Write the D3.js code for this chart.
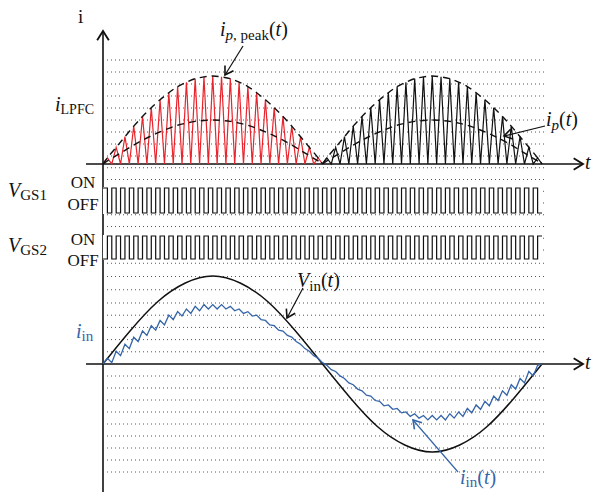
<!DOCTYPE html>
<html>
<head>
<meta charset="utf-8">
<script src="https://cdn.jsdelivr.net/npm/d3@7"></script>
<style>
  body { margin: 0; background: #fff; }
</style>
</head>
<body>
<div id="chart"></div>
<script>
// switching periods in one half of the line cycle
let periodsPerHalf = 25;

// peak of each inductor current spike, as fraction of i_LPFC peak
let spikePeaksFirst = [0.07, 0.19, 0.31, 0.43, 0.54, 0.64, 0.73, 0.81, 0.88, 0.93, 0.97, 0.99, 1.0,
                       0.99, 0.97, 0.93, 0.88, 0.81, 0.73, 0.64, 0.54, 0.43, 0.31, 0.19, 0.07];
let spikePeaksSecond = [0.07, 0.19, 0.31, 0.43, 0.54, 0.64, 0.73, 0.81, 0.88, 0.93, 0.97, 0.99, 1.0,
                        0.99, 0.97, 0.93, 0.88, 0.81, 0.73, 0.64, 0.54, 0.43, 0.31, 0.19, 0.07];
// average current is half the peak
let avgRatio = 0.5;

// input voltage over one full line cycle (16 equal steps)
let vinSamples = [0, 0.38, 0.71, 0.92, 1.0, 0.92, 0.71, 0.38, 0,
                  -0.38, -0.71, -0.92, -1.0, -0.92, -0.71, -0.38, 0];

// input current, mean value in each switching period
let iinMean = [0.04, 0.12, 0.20, 0.28, 0.35, 0.41, 0.47, 0.53, 0.57, 0.60, 0.63, 0.65, 0.65,
               0.65, 0.63, 0.60, 0.57, 0.53, 0.47, 0.41, 0.35, 0.28, 0.20, 0.12, 0.04,
               -0.04, -0.11, -0.19, -0.26, -0.33, -0.39, -0.45, -0.49, -0.53, -0.57, -0.59, -0.61, -0.61,
               -0.61, -0.59, -0.57, -0.53, -0.49, -0.45, -0.39, -0.33, -0.26, -0.19, -0.11, -0.04];
let iinRipple = 0.025;

// gate signals: duty and phase (in periods)
let gateDuty = 0.5;
let gatePhase = { vgs1: 0, vgs2: 0.5 };

let gateLevels = ["OFF", "ON"];

let width = 593;
let height = 492;
let serif = "'Liberation Serif', 'DejaVu Serif', serif";
let red = "#e8242c";
let blue = "#3565a8";
let ink = "#111";

let svg = d3.select("#chart").append("svg")
    .attr("width", width)
    .attr("height", height)
    .style("background", "#fff");

let defs = svg.append("defs");
function addMarker(id, color, size) {
  defs.append("marker")
      .attr("id", id)
      .attr("viewBox", "-10 -6 12 12")
      .attr("refX", 0).attr("refY", 0)
      .attr("markerUnits", "userSpaceOnUse")
      .attr("markerWidth", size).attr("markerHeight", size)
      .attr("orient", "auto")
      .append("path")
      .attr("d", "M-8,-5 L0,0 L-8,5")
      .attr("fill", "none")
      .attr("stroke", color)
      .attr("stroke-width", 1.6);
}
addMarker("axisArrow", ink, 14);
addMarker("noteArrow", ink, 12);
addMarker("noteArrowBlue", blue, 12);

let nPeriods = periodsPerHalf * 2;

// time scale (switching periods)
let x = d3.scaleLinear().domain([0, nPeriods]).range([103, 542]);
// grid rows
let gridY = d3.scaleLinear().domain([0, 8, 16, 20, 25, 34]).range([60, 156, 250, 303, 364, 472]);
// panel scales
let yI = d3.scaleLinear().domain([0, 1]).range([164, 76]);
let yG1 = d3.scaleLinear().domain([0, 1]).range([213, 188]);
let yG2 = d3.scaleLinear().domain([0, 1]).range([259, 236]);
let yV = d3.scaleLinear().domain([-1, 1]).range([452, 276]);

// dotted grid
let rows = d3.range(0, 35).filter(function(d) { return d !== 25; });
svg.append("g").selectAll("line")
    .data(rows)
    .enter()
    .append("line")
    .attr("x1", 107).attr("x2", 546)
    .attr("y1", function(d) { return gridY(d); })
    .attr("y2", function(d) { return gridY(d); })
    .attr("stroke", "#555")
    .attr("stroke-width", 1)
    .attr("stroke-dasharray", "1,3");

// axes
svg.append("line")
    .attr("x1", x(0)).attr("y1", 492).attr("x2", x(0)).attr("y2", 31)
    .attr("stroke", ink).attr("stroke-width", 1.6)
    .attr("marker-end", "url(#axisArrow)");
[yI(0), yV(0)].forEach(function(yy) {
  svg.append("line")
      .attr("x1", 86).attr("y1", yy).attr("x2", 583).attr("y2", yy)
      .attr("stroke", ink).attr("stroke-width", 1.6)
      .attr("marker-end", "url(#axisArrow)");
});

// inductor current spikes
function spikePoints(peaks, offset) {
  let pts = [[offset, 0]];
  peaks.forEach(function(p, k) {
    pts.push([offset + k + 0.5, p]);
    pts.push([offset + k + 1, 0]);
  });
  return pts;
}
let lineI = d3.line()
    .x(function(d) { return x(d[0]); })
    .y(function(d) { return yI(d[1]); });

svg.append("path")
    .attr("d", lineI(spikePoints(spikePeaksFirst, 0)))
    .attr("fill", "none").attr("stroke", red).attr("stroke-width", 1.2);
svg.append("path")
    .attr("d", lineI(spikePoints(spikePeaksSecond, periodsPerHalf)))
    .attr("fill", "none").attr("stroke", ink).attr("stroke-width", 1.2);

// envelopes
let lineEnv = d3.line()
    .x(function(d) { return x(d[0]); })
    .y(function(d) { return yI(d[1]); })
    .curve(d3.curveNatural);
function envPoints(peaks, offset, ratio) {
  let pts = [[offset, 0]];
  peaks.forEach(function(p, k) { pts.push([offset + k + 0.5, p * ratio]); });
  pts.push([offset + peaks.length, 0]);
  return pts;
}
[[spikePeaksFirst, 0], [spikePeaksSecond, periodsPerHalf]].forEach(function(s) {
  [1, avgRatio].forEach(function(r) {
    svg.append("path")
        .attr("d", lineEnv(envPoints(s[0], s[1], r)))
        .attr("fill", "none").attr("stroke", ink)
        .attr("stroke-width", 1.4)
        .attr("stroke-dasharray", "7,5");
  });
});

// gate signals: high from k+phase for gateDuty periods
function gatePoints(phase) {
  let pts = [[0, phase > 0 ? 0 : 1]];
  for (let k = 0; k < nPeriods; k++) {
    let on = k + phase;
    let off = on + gateDuty;
    if (on > 0 && on < nPeriods) pts.push([on, 1]);
    if (off < nPeriods) pts.push([off, 0]);
  }
  pts.push([nPeriods, pts[pts.length - 1][1]]);
  return pts;
}
[[yG1, gatePhase.vgs1], [yG2, gatePhase.vgs2]].forEach(function(g) {
  let yS = g[0];
  svg.append("rect")
      .attr("x", x(0)).attr("width", x(nPeriods) - x(0))
      .attr("y", yS(1) - 1).attr("height", yS(0) - yS(1) + 2)
      .attr("fill", "#fff");
  let lineG = d3.line()
      .x(function(d) { return x(d[0]); })
      .y(function(d) { return yS(d[1]); })
      .curve(d3.curveStepAfter);
  svg.append("path")
      .attr("d", lineG(gatePoints(g[1])))
      .attr("fill", "none").attr("stroke", ink).attr("stroke-width", 1.2);
});

// input voltage
let lineV = d3.line()
    .x(function(d, i) { return x(i * nPeriods / (vinSamples.length - 1)); })
    .y(function(d) { return yV(d); })
    .curve(d3.curveNatural);
svg.append("path")
    .attr("d", lineV(vinSamples))
    .attr("fill", "none").attr("stroke", ink).attr("stroke-width", 1.5);

// input current with ripple
let iinPts = [[0, 0]];
iinMean.forEach(function(m, k) {
  iinPts.push([k + 0.5, m + iinRipple]);
  iinPts.push([k + 1, k === nPeriods - 1 ? 0 : m - iinRipple]);
});
let lineIin = d3.line()
    .x(function(d) { return x(d[0]); })
    .y(function(d) { return yV(d[1]); });
svg.append("path")
    .attr("d", lineIin(iinPts))
    .attr("fill", "none").attr("stroke", blue).attr("stroke-width", 1.3);

// annotation arrows
function note(x1, y1, x2, y2, marker, color) {
  svg.append("line")
      .attr("x1", x1).attr("y1", y1).attr("x2", x2).attr("y2", y2)
      .attr("stroke", color).attr("stroke-width", 1.2)
      .attr("marker-end", "url(#" + marker + ")");
}
note(243, 46, 225, 75, "noteArrow", ink);
note(545, 126, 504, 136, "noteArrow", ink);
note(303, 288, 287, 318, "noteArrow", ink);
note(458, 472, 413, 420, "noteArrowBlue", blue);

// labels
function mathLabel(px, py, parts, color, anchor) {
  let t = svg.append("text")
      .attr("x", px).attr("y", py)
      .attr("fill", color || ink)
      .attr("text-anchor", anchor || "start")
      .style("font-family", serif);
  parts.forEach(function(p) {
    t.append("tspan")
        .text(p.s)
        .attr("dy", p.dy || 0)
        .style("font-style", p.it ? "italic" : "normal")
        .style("font-size", (p.size || 20) + "px");
  });
}
mathLabel(78, 23, [{s: "i", size: 19}]);
mathLabel(55, 111, [{s: "i", it: true}, {s: "LPFC", size: 14, dy: 3}]);
mathLabel(220, 36, [{s: "i", it: true}, {s: "p", it: true, size: 15, dy: 4}, {s: ", peak", size: 15},
                     {s: "(", dy: -4}, {s: "t", it: true}, {s: ")"}]);
mathLabel(546, 126, [{s: "i", it: true}, {s: "p", it: true, size: 15, dy: 4}, {s: "(", dy: -4}, {s: "t", it: true}, {s: ")"}]);
mathLabel(585, 169, [{s: "t", it: true}]);
mathLabel(585, 369, [{s: "t", it: true}]);

mathLabel(8, 197, [{s: "V", it: true}, {s: "GS1", size: 15, dy: 3}]);
mathLabel(8, 252, [{s: "V", it: true}, {s: "GS2", size: 15, dy: 3}]);
[[188, 210], [245, 266]].forEach(function(ys) {
  gateLevels.forEach(function(lv, i) {
    mathLabel(83, i === 1 ? ys[0] : ys[1], [{s: lv, size: 17}], ink, "middle");
  });
});

mathLabel(297, 287, [{s: "V", it: true}, {s: "in", size: 15, dy: 4}, {s: "(", dy: -4}, {s: "t", it: true}, {s: ")"}]);
mathLabel(76, 338, [{s: "i", it: true}, {s: "in", size: 15, dy: 3}], blue);
mathLabel(460, 484, [{s: "i", it: true}, {s: "in", size: 15, dy: 3}, {s: "(", dy: -3}, {s: "t", it: true}, {s: ")"}], blue);
</script>
</body>
</html>
